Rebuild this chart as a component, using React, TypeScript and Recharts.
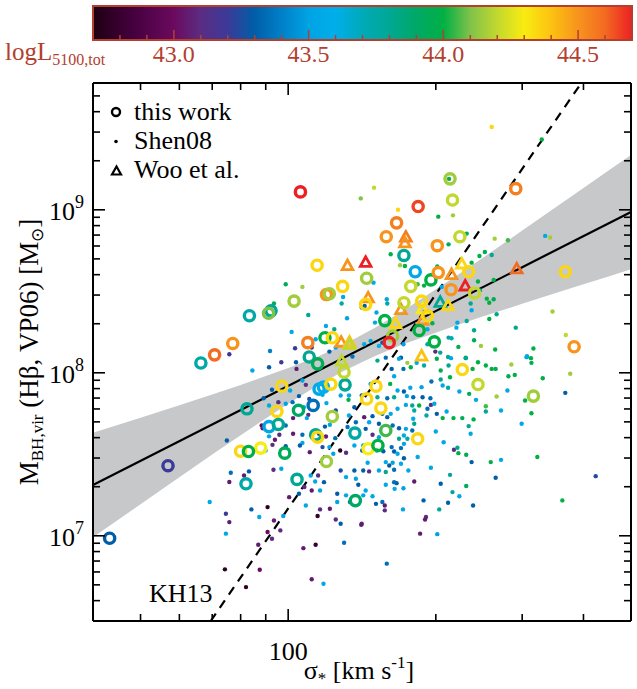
import React from 'react';
import { ComposedChart, XAxis, YAxis, Scatter, Line, Area } from 'recharts';

const W = 637;
const H = 689;
const FONT = '"Liberation Serif", "Times New Roman", Times, serif';
const RED_TXT = '#b3402f';

// ---- data: [log10 sigma (km/s), log10 M_BH (Msun), log L5100,tot] ----
const thisWork: [number, number, number][] = [
  [2.025, 9.11, 44.7], [2.059, 8.66, 44.35], [2.16, 8.58, 44.15], [2.111, 8.53, 44.35],
  [2.078, 8.48, 44.5], [2.084, 8.485, 44.15], [2.012, 8.44, 44.15], [1.965, 8.38, 43.8],
  [1.96, 8.365, 44.1], [1.921, 8.35, 43.75], [1.887, 8.18, 44.5], [1.85, 8.11, 44.6],
  [1.822, 8.06, 43.75], [2.075, 8.215, 44.0], [2.09, 8.215, 44.35], [2.04, 8.185, 44.55],
  [2.043, 8.097, 43.8], [2.464, 9.13, 44.55], [2.33, 9.19, 44.15], [2.335, 9.06, 44.2],
  [2.265, 9.02, 44.65], [2.221, 8.92, 44.55], [2.2, 8.835, 44.5], [2.236, 8.72, 43.8],
  [2.304, 8.78, 44.5], [2.35, 8.835, 44.2], [2.259, 8.62, 43.55], [2.291, 8.57, 44.0],
  [2.306, 8.615, 44.5], [2.25, 8.53, 44.2], [2.368, 8.62, 44.35], [2.332, 8.51, 44.5],
  [2.38, 8.49, 44.2], [2.565, 8.62, 44.35], [2.158, 8.42, 44.35], [2.236, 8.43, 44.2],
  [2.272, 8.44, 44.35], [2.284, 8.35, 44.35], [2.197, 8.32, 44.0], [2.267, 8.26, 44.0],
  [2.213, 8.226, 44.15], [2.206, 8.185, 44.7], [2.298, 8.19, 44.0], [2.583, 8.16, 44.5],
  [1.636, 6.985, 43.3], [1.755, 7.43, 43.2], [1.916, 7.779, 43.8], [1.987, 7.918, 44.35],
  [1.977, 7.763, 44.35], [1.961, 7.67, 43.55], [1.98, 7.683, 43.8], [2.021, 7.77, 43.9],
  [2.051, 7.8, 43.35], [2.063, 7.9, 43.55], [2.072, 7.912, 43.6], [2.087, 7.93, 44.35],
  [2.06, 8.055, 43.95], [2.116, 7.926, 43.8], [2.114, 8.004, 44.2], [2.09, 7.732, 44.15],
  [2.056, 7.62, 43.8], [2.06, 7.605, 44.35], [2.136, 7.63, 43.75], [1.903, 7.519, 44.35],
  [1.944, 7.538, 44.3], [1.919, 7.517, 44.0], [1.993, 7.507, 43.95], [2.078, 7.456, 44.15],
  [2.018, 7.346, 43.8], [1.914, 7.319, 43.75], [2.137, 7.216, 43.9], [2.355, 8.02, 44.35],
  [2.387, 7.928, 44.2], [2.5, 7.857, 44.15], [2.179, 7.918, 44.35], [2.16, 7.84, 44.35],
  [2.189, 7.783, 44.35], [2.199, 7.646, 44.05], [2.264, 7.595, 44.35], [2.163, 7.534, 44.3],
  [2.183, 7.554, 44.0],
];

const wooEtAl: [number, number, number][] = [
  [2.121, 8.655, 44.5], [2.158, 8.675, 44.7], [2.108, 8.185, 44.5], [2.125, 8.185, 44.4],
  [2.125, 8.17, 44.2], [2.24, 8.83, 44.55], [2.238, 8.795, 44.5], [2.333, 8.6, 44.5],
  [2.354, 8.665, 44.35], [2.361, 8.53, 44.7], [2.466, 8.635, 44.6], [2.163, 8.457, 44.5],
  [2.274, 8.39, 44.3], [2.23, 8.385, 44.5], [2.31, 8.43, 43.8], [2.326, 8.41, 44.35],
  [2.274, 8.32, 44.5], [2.219, 8.3, 44.35], [2.272, 8.1, 44.4], [2.109, 8.07, 44.2],
];

const shen08: [number, number, number][] = [
  [2.148, 9.07, 44.1], [1.995, 8.543, 43.95], [2.029, 8.527, 44.15], [1.971, 8.425, 43.95],
  [2.041, 8.355, 43.8], [2.112, 8.465, 43.55], [2.12, 8.335, 43.5], [2.109, 8.425, 43.75],
  [2.094, 8.267, 43.8], [2.077, 8.287, 43.55], [2.007, 8.251, 43.55], [1.963, 8.134, 43.4],
  [2.014, 8.151, 43.2], [1.88, 8.114, 43.2], [2.048, 8.155, 43.1], [2.084, 8.13, 43.3],
  [2.097, 8.155, 43.55], [2.15, 8.4, 43.3], [2.056, 8.206, 43.55], [2.131, 8.1, 43.35],
  [2.415, 9.508, 44.35], [2.517, 9.432, 44.0], [2.175, 9.136, 44.2], [2.224, 9.0, 44.35],
  [2.306, 8.958, 44.0], [2.336, 8.966, 44.15], [2.328, 9.19, 44.0], [2.364, 8.854, 43.95],
  [2.421, 8.823, 44.15], [2.448, 8.813, 44.05], [2.524, 8.84, 43.55], [2.534, 8.83, 44.15],
  [2.327, 8.788, 43.95], [2.209, 8.727, 44.0], [2.401, 8.741, 43.95], [2.39, 8.717, 44.0],
  [2.415, 8.723, 43.8], [2.228, 8.66, 44.15], [2.238, 8.655, 44.0], [2.304, 8.653, 43.95],
  [2.374, 8.676, 44.0], [2.174, 8.553, 43.55], [2.264, 8.543, 44.05], [2.277, 8.535, 44.0],
  [2.313, 8.527, 43.55], [2.387, 8.56, 44.0], [2.419, 8.57, 44.0], [2.391, 8.506, 43.8],
  [2.405, 8.455, 44.0], [2.419, 8.451, 43.95], [2.41, 8.43, 44.0], [2.201, 8.451, 43.5],
  [2.202, 8.425, 43.75], [2.18, 8.37, 43.55], [2.156, 8.41, 43.3], [2.372, 8.425, 43.8],
  [2.374, 8.384, 43.55], [2.41, 8.33, 44.0], [2.364, 8.318, 43.8], [2.345, 8.308, 43.55],
  [2.343, 8.277, 43.6], [2.425, 8.359, 43.8], [2.464, 8.277, 43.8], [2.177, 8.308, 43.55],
  [2.294, 8.304, 44.0], [2.539, 8.376, 44.15], [2.566, 8.232, 44.2], [2.284, 8.267, 43.55],
  [2.379, 8.261, 43.8], [2.327, 8.216, 43.8], [2.333, 8.212, 43.7], [2.347, 8.159, 44.0],
  [2.379, 8.2, 43.95], [2.393, 8.165, 44.15], [2.422, 8.143, 44.0], [2.5, 8.149, 44.0],
  [2.487, 8.102, 43.55], [2.168, 8.196, 43.55], [2.192, 8.185, 43.3], [2.185, 8.165, 43.6],
  [2.235, 8.175, 43.5], [2.284, 8.175, 43.75], [2.3, 8.13, 43.1], [2.31, 8.124, 43.8],
  [2.362, 8.093, 44.0], [2.326, 8.097, 43.8], [2.23, 8.093, 43.3], [2.199, 8.093, 43.35],
  [2.155, 8.175, 43.55],
  [1.927, 8.014, 43.55], [1.961, 8.034, 43.3], [1.986, 8.065, 43.2], [2.017, 8.024, 43.05],
  [2.016, 8.065, 43.3], [1.967, 7.896, 43.3], [1.95, 7.844, 43.3], [1.961, 7.799, 43.55],
  [1.98, 7.82, 43.1], [1.995, 7.81, 43.5], [2.009, 7.82, 43.35], [2.004, 7.891, 43.55],
  [2.029, 7.953, 43.5], [2.036, 7.926, 43.1], [2.043, 7.84, 43.25], [2.07, 7.865, 43.55],
  [2.078, 7.814, 43.55], [2.022, 7.857, 43.3], [2.041, 7.742, 43.1], [2.038, 7.722, 43.55],
  [2.01, 7.722, 43.05], [1.995, 7.677, 43.35], [1.946, 7.677, 43.0], [1.948, 7.66, 43.05],
  [1.982, 7.62, 43.1], [1.961, 7.61, 43.55], [1.973, 7.589, 43.05], [1.968, 7.558, 43.1],
  [1.954, 7.523, 43.55], [1.995, 7.55, 43.3], [2.01, 7.626, 43.05], [2.029, 7.62, 43.35],
  [2.029, 7.57, 43.55], [2.044, 7.513, 43.05], [2.063, 7.626, 43.1], [2.075, 7.67, 43.3],
  [2.085, 7.681, 43.55], [2.077, 7.609, 43.05], [2.024, 7.554, 43.3], [2.07, 7.544, 43.25],
  [2.096, 7.599, 43.35], [2.106, 7.523, 42.75], [2.084, 7.544, 43.55], [2.092, 7.503, 43.5],
  [2.118, 7.509, 43.1], [2.135, 7.554, 43.55], [2.121, 7.667, 43.35], [2.138, 7.697, 43.35],
  [2.124, 7.738, 43.55], [2.135, 7.789, 43.3], [2.124, 7.861, 43.55], [2.123, 7.834, 44.0],
  [2.107, 7.861, 43.55], [2.032, 7.789, 43.6], [1.875, 7.585, 43.3], [1.91, 7.37, 43.05],
  [1.92, 7.395, 43.3], [1.88, 7.33, 43.05], [1.883, 7.387, 43.35], [1.84, 7.207, 43.55],
  [1.873, 7.135, 43.2], [1.88, 7.084, 43.05], [1.873, 7.013, 43.55], [1.871, 6.794, 42.75],
  [1.914, 6.685, 42.75], [1.958, 7.176, 42.75], [1.925, 7.162, 43.3], [1.941, 7.115, 43.55],
  [1.971, 7.094, 43.05], [1.958, 7.023, 43.0], [1.967, 6.982, 43.1], [1.984, 7.033, 43.1],
  [1.99, 7.121, 43.5], [1.939, 6.945, 43.05], [1.942, 6.792, 43.0], [1.97, 7.405, 43.1],
  [1.986, 7.411, 43.55], [2.002, 7.237, 43.05], [2.022, 7.258, 43.3], [2.033, 7.299, 43.1],
  [2.036, 7.186, 43.55], [2.046, 7.37, 43.55], [2.061, 7.37, 43.1], [2.055, 7.333, 43.55],
  [2.073, 7.329, 43.3], [2.065, 7.278, 43.5], [2.048, 7.278, 43.05], [2.065, 7.162, 43.1],
  [2.06, 7.121, 42.8], [2.085, 7.166, 43.05], [2.097, 7.1, 43.1], [2.107, 7.074, 43.3],
  [2.031, 6.924, 43.05], [2.056, 6.945, 42.8], [2.114, 6.957, 43.35], [2.048, 6.733, 43.05],
  [2.072, 6.706, 43.55], [2.1, 7.258, 43.3], [2.118, 7.248, 43.55], [2.1, 7.207, 43.5],
  [2.126, 7.207, 43.35], [2.15, 7.074, 43.1], [2.153, 7.248, 43.55], [2.107, 7.401, 43.25],
  [2.135, 7.401, 43.3], [2.118, 7.36, 43.55], [2.138, 7.35, 43.5], [2.143, 7.313, 43.3],
  [2.097, 7.769, 43.25], [2.15, 7.861, 43.3],
  [2.182, 8.075, 43.8], [2.211, 8.024, 43.3], [2.216, 7.979, 43.55], [2.226, 8.086, 43.55],
  [2.235, 8.024, 43.35], [2.25, 8.034, 44.0], [2.243, 8.061, 44.15], [2.262, 8.061, 43.55],
  [2.303, 8.086, 44.0], [2.311, 8.014, 43.95], [2.327, 8.045, 43.8], [2.332, 8.09, 43.55],
  [2.362, 8.09, 43.8], [2.376, 8.024, 44.0], [2.387, 8.065, 44.0], [2.403, 8.045, 44.0],
  [2.415, 8.024, 44.0], [2.423, 8.024, 43.95], [2.455, 8.051, 44.15], [2.486, 8.096, 43.55],
  [2.495, 8.09, 44.0], [2.496, 8.061, 43.95], [2.449, 7.979, 43.95], [2.462, 7.987, 44.0],
  [2.519, 7.967, 44.0], [2.575, 7.994, 44.15], [2.277, 8.045, 43.75],
  [2.311, 7.959, 43.8], [2.292, 7.947, 43.35], [2.33, 7.973, 44.0], [2.315, 7.922, 43.55],
  [2.326, 7.908, 43.75], [2.272, 7.912, 43.5], [2.249, 7.908, 43.55], [2.236, 7.885, 43.3],
  [2.223, 7.891, 43.55], [2.208, 7.932, 44.0], [2.168, 7.932, 43.55], [2.349, 7.885, 43.55],
  [2.369, 7.871, 43.95], [2.383, 7.834, 43.55], [2.447, 7.891, 43.55], [2.425, 7.855, 44.15],
  [2.483, 7.83, 44.0], [2.565, 7.877, 43.3], [2.182, 7.85, 43.8], [2.202, 7.844, 43.35],
  [2.216, 7.85, 43.8], [2.242, 7.857, 43.55], [2.255, 7.85, 43.35], [2.274, 7.85, 43.3],
  [2.29, 7.844, 43.35],
  [2.24, 7.803, 43.55], [2.253, 7.799, 43.8], [2.267, 7.799, 44.0], [2.291, 7.803, 43.1],
  [2.298, 7.81, 43.55], [2.284, 7.779, 43.35], [2.257, 7.769, 43.75], [2.223, 7.779, 43.55],
  [2.209, 7.748, 43.55], [2.202, 7.728, 43.3], [2.255, 7.718, 43.55], [2.282, 7.738, 43.75],
  [2.303, 7.748, 43.3], [2.315, 7.722, 44.0], [2.323, 7.763, 43.55], [2.337, 7.722, 44.0],
  [2.355, 7.722, 43.95], [2.378, 7.714, 44.0], [2.403, 7.763, 43.8], [2.403, 7.795, 44.05],
  [2.434, 7.769, 43.55], [2.496, 7.752, 44.0], [2.476, 7.687, 43.55], [2.155, 7.728, 43.05],
  [2.172, 7.734, 43.3], [2.192, 7.748, 43.35], [2.172, 7.62, 43.1],
  [2.165, 7.697, 43.55], [2.185, 7.687, 43.3], [2.213, 7.677, 43.35], [2.226, 7.66, 43.3],
  [2.24, 7.656, 43.55], [2.253, 7.646, 43.35], [2.236, 7.615, 43.55], [2.226, 7.595, 43.8],
  [2.243, 7.595, 43.75], [2.257, 7.687, 43.8], [2.158, 7.656, 43.3], [2.185, 7.605, 43.55],
  [2.301, 7.64, 43.55], [2.368, 7.673, 43.8], [2.372, 7.626, 43.55], [2.317, 7.574, 43.55],
  [2.236, 7.564, 43.5], [2.23, 7.538, 43.35], [2.216, 7.517, 43.3], [2.211, 7.544, 43.35],
  [2.223, 7.503, 43.55], [2.181, 7.523, 43.8], [2.194, 7.519, 43.3], [2.153, 7.554, 43.55],
  [2.151, 7.523, 43.3], [2.338, 7.528, 43.1], [2.347, 7.507, 44.0], [2.345, 7.54, 43.8],
  [2.363, 7.497, 43.95], [2.413, 7.452, 44.0], [2.434, 7.466, 43.55], [2.508, 7.483, 44.0],
  [2.374, 7.452, 43.3], [2.264, 7.483, 43.55], [2.199, 7.452, 43.55], [2.213, 7.448, 43.5],
  [2.206, 7.431, 43.3], [2.199, 7.391, 43.8], [2.216, 7.405, 43.35], [2.23, 7.442, 43.55],
  [2.245, 7.401, 43.55], [2.236, 7.476, 43.3], [2.291, 7.417, 43.55], [2.162, 7.448, 43.55],
  [2.153, 7.401, 43.3], [2.165, 7.395, 43.1], [2.185, 7.401, 43.55],
  [2.33, 7.374, 43.8], [2.311, 7.319, 43.3], [2.423, 7.356, 43.3], [2.257, 7.333, 43.05],
  [2.221, 7.323, 43.3], [2.216, 7.329, 43.35], [2.199, 7.313, 43.55], [2.217, 7.288, 43.55],
  [2.235, 7.292, 43.5], [2.158, 7.278, 43.55], [2.172, 7.243, 43.55], [2.179, 7.196, 43.3],
  [2.192, 7.207, 43.35], [2.197, 7.186, 43.05], [2.197, 7.156, 43.1], [2.234, 7.162, 43.55],
  [2.276, 7.217, 43.3], [2.335, 7.268, 43.8], [2.349, 7.243, 43.55], [2.363, 7.305, 43.95],
  [2.326, 7.203, 43.3], [2.377, 7.186, 43.3], [2.308, 7.162, 43.8], [2.281, 7.115, 43.1],
  [2.279, 7.1, 43.05], [2.269, 7.013, 43.05], [2.304, 7.01, 43.5], [2.201, 6.829, 43.35],
  [2.627, 7.366, 43.25], [2.559, 7.217, 44.0], [2.149, 7.068, 43.05],
];

// best-fit relation and its confidence band (sigma, M)
const fitLine = [ { x: 40, y: 2.05e7 }, { x: 500, y: 9.7e8 } ];
const kh13Line = [ { x: 69.5, y: 3.0e6 }, { x: 396, y: 6.0e9 } ];
const bandSigma = [40, 50, 60, 70, 80, 100, 115, 130, 150, 170, 220, 250, 300, 350, 400, 450, 500];
const bandLow = [9.8e6, 1.56e7, 2.29e7, 3.15e7, 4.14e7, 6.46e7, 8.4e7, 1.03e8, 1.265e8, 1.48e8, 1.95e8, 2.22e8, 2.65e8, 3.08e8, 3.5e8, 3.9e8, 4.32e8];
const bandHigh = [4.28e7, 5.3e7, 6.32e7, 7.35e7, 8.41e7, 1.07e8, 1.26e8, 1.49e8, 1.88e8, 2.36e8, 3.93e8, 5.1e8, 7.46e8, 1.03e9, 1.36e9, 1.74e9, 2.17e9];

const xTicks = [50, 60, 70, 80, 90, 100, 200, 300, 400];
const yTicks = [
  4e6, 5e6, 6e6, 7e6, 8e6, 9e6, 1e7, 2e7, 3e7, 4e7, 5e7, 6e7, 7e7, 8e7, 9e7,
  1e8, 2e8, 3e8, 4e8, 5e8, 6e8, 7e8, 8e8, 9e8, 1e9, 2e9, 3e9, 4e9, 5e9,
];
const cbarMajor = [43.0, 43.5, 44.0, 44.5];
const cbarMinor = [42.8, 42.9, 43.1, 43.2, 43.3, 43.4, 43.6, 43.7, 43.8, 43.9, 44.1, 44.2, 44.3, 44.4, 44.6];

// ---- colour map (logL -> colour) ----
const STOPS: [number, string][] = [
  [42.7, '#1e0012'], [42.85, '#45003f'], [43.0, '#6b0a5e'], [43.1, '#5a2d82'],
  [43.2, '#3b3a98'], [43.3, '#005ea8'], [43.4, '#0080c8'], [43.5, '#00a3e3'],
  [43.6, '#00aeea'], [43.7, '#00aab8'], [43.8, '#00a894'], [43.9, '#00a866'],
  [44.0, '#00b045'], [44.1, '#80c24a'], [44.2, '#c2d82e'], [44.3, '#f8ec10'],
  [44.4, '#fcc212'], [44.5, '#f7941d'], [44.6, '#f36a21'], [44.7, '#ec2024'],
];
const hex = (h: string) => [1, 3, 5].map((i) => parseInt(h.slice(i, i + 2), 16));
function lumColor(L: number): string {
  if (L <= STOPS[0][0]) return STOPS[0][1];
  for (let i = 1; i < STOPS.length; i++) {
    if (L <= STOPS[i][0]) {
      const [l0, c0] = STOPS[i - 1];
      const [l1, c1] = STOPS[i];
      const t = (L - l0) / (l1 - l0);
      const a = hex(c0), b = hex(c1);
      const c = a.map((v, k) => Math.round(v + (b[k] - v) * t));
      return `rgb(${c[0]},${c[1]},${c[2]})`;
    }
  }
  return STOPS[STOPS.length - 1][1];
}

const toPts = (arr: [number, number, number][]) =>
  arr.map(([ls, lm, L]) => ({ x: Math.pow(10, ls), y: Math.pow(10, lm), L }));
const shenPts = toPts(shen08);
const wooPts = toPts(wooEtAl);
const workPts = toPts(thisWork);
const bandPts = bandSigma.map((s, i) => ({ x: s, band: [bandLow[i], bandHigh[i]] }));

// ---- shapes ----
const DotShape = (p: any) => <circle cx={p.cx} cy={p.cy} r={2.2} fill={lumColor(p.payload.L)} />;
const RingShape = (p: any) => (
  <circle cx={p.cx} cy={p.cy} r={5.1} fill="none" stroke={lumColor(p.payload.L)} strokeWidth={3.4} />
);
const TriShape = (p: any) => {
  const { cx, cy } = p;
  const pts = `${cx},${cy - 6} ${cx - 5.3},${cy + 3.6} ${cx + 5.3},${cy + 3.6}`;
  return <polygon points={pts} fill="none" stroke={lumColor(p.payload.L)} strokeWidth={2.8} strokeLinejoin="miter" />;
};

// ---- ticks ----
const isMajorX = (v: number) => v === 100;
const isMajorY = (v: number) => [1e7, 1e8, 1e9].includes(v);
const BottomTick = (p: any) => {
  const { x, y, payload } = p;
  const major = isMajorX(payload.value);
  return (
    <g>
      <line x1={x} x2={x} y1={y} y2={y - (major ? 12 : 7)} stroke="#000" strokeWidth={1.6} />
      {major && (
        <text x={x} y={y + 39} textAnchor="middle" fontFamily={FONT} fontSize={26} fill="#000">100</text>
      )}
    </g>
  );
};
const TopTick = (p: any) => {
  const { x, y, payload } = p;
  const major = isMajorX(payload.value);
  return <line x1={x} x2={x} y1={y} y2={y + (major ? 12 : 7)} stroke="#000" strokeWidth={1.6} />;
};
const LeftTick = (p: any) => {
  const { x, y, payload } = p;
  const v = payload.value;
  const major = isMajorY(v);
  const exp = Math.round(Math.log10(v));
  return (
    <g>
      <line x1={x} x2={x + (major ? 12 : 7)} y1={y} y2={y} stroke="#000" strokeWidth={1.6} />
      {major && (
        <text x={x - 9} y={y + 10} textAnchor="end" fontFamily={FONT} fontSize={26} fill="#000">
          10<tspan fontSize={18} dy={-12}>{exp}</tspan>
        </text>
      )}
    </g>
  );
};
const RightTick = (p: any) => {
  const { x, y, payload } = p;
  const major = isMajorY(payload.value);
  return <line x1={x} x2={x - (major ? 12 : 7)} y1={y} y2={y} stroke="#000" strokeWidth={1.6} />;
};

// ---- colour bar geometry ----
const CB_X0 = 93, CB_X1 = 632, CB_Y0 = 6, CB_Y1 = 40;
const cbX = (L: number) => CB_X0 + ((L - 42.7) / 2.0) * (CB_X1 - CB_X0);

export default function App() {
  return (
    <div style={{ position: 'absolute', left: 0, top: 0, width: W, height: H, background: '#fff', overflow: 'hidden' }}>
      <ComposedChart width={W} height={H} margin={{ top: 73, right: 0, bottom: 28, left: 33 }}>
        <XAxis
          xAxisId={0} dataKey="x" type="number" scale="log" domain={[40, 500]} allowDataOverflow
          ticks={xTicks} interval={0} tickSize={0} tickMargin={0} tick={<BottomTick />} height={40}
          axisLine={{ stroke: '#000', strokeWidth: 2 }} tickLine={false}
        />
        <XAxis
          xAxisId="top" orientation="top" dataKey="x" type="number" scale="log" domain={[40, 500]} allowDataOverflow
          ticks={xTicks} interval={0} tickSize={0} tickMargin={0} tick={<TopTick />} height={10}
          axisLine={{ stroke: '#000', strokeWidth: 2 }} tickLine={false}
        />
        <YAxis
          yAxisId={0} dataKey="y" type="number" scale="log" domain={[3e6, 6e9]} allowDataOverflow
          ticks={yTicks} interval={0} tickSize={0} tickMargin={0} tick={<LeftTick />} width={60}
          axisLine={{ stroke: '#000', strokeWidth: 2 }} tickLine={false}
        />
        <YAxis
          yAxisId="right" orientation="right" dataKey="y" type="number" scale="log" domain={[3e6, 6e9]} allowDataOverflow
          ticks={yTicks} interval={0} tickSize={0} tickMargin={0} tick={<RightTick />} width={6}
          axisLine={{ stroke: '#000', strokeWidth: 2 }} tickLine={false}
        />
        <Area
          data={bandPts} dataKey="band" type="linear" stroke="none" fill="#c7c8ca" fillOpacity={1}
          isAnimationActive={false} dot={false} activeDot={false}
        />
        <Scatter data={shenPts} dataKey="y" shape={(p: any) => <DotShape {...p} />} isAnimationActive={false} />
        <Scatter data={wooPts} dataKey="y" shape={(p: any) => <TriShape {...p} />} isAnimationActive={false} />
        <Scatter data={workPts} dataKey="y" shape={(p: any) => <RingShape {...p} />} isAnimationActive={false} />
        <Line
          data={fitLine} dataKey="y" type="linear" stroke="#000" strokeWidth={2.2}
          dot={false} activeDot={false} isAnimationActive={false}
        />
        <Line
          data={kh13Line} dataKey="y" type="linear" stroke="#000" strokeWidth={2.2} strokeDasharray="9 7"
          dot={false} activeDot={false} isAnimationActive={false}
        />
      </ComposedChart>

      <svg width={W} height={H} style={{ position: 'absolute', left: 0, top: 0, pointerEvents: 'none' }}>
        <defs>
          <linearGradient id="lumgrad" x1="0" x2="1" y1="0" y2="0">
            {STOPS.map(([l, c]) => (
              <stop key={l} offset={`${((l - 42.7) / 2.0) * 100}%`} stopColor={c} />
            ))}
          </linearGradient>
        </defs>
        {/* colour bar */}
        <rect x={CB_X0} y={CB_Y0} width={CB_X1 - CB_X0} height={CB_Y1 - CB_Y0} fill="url(#lumgrad)" stroke={RED_TXT} strokeWidth={2} />
        {cbarMinor.map((l) => (
          <line key={`m${l}`} x1={cbX(l)} x2={cbX(l)} y1={CB_Y1} y2={CB_Y1 - 5} stroke={RED_TXT} strokeWidth={1.5} />
        ))}
        {cbarMajor.map((l) => (
          <g key={`M${l}`}>
            <line x1={cbX(l)} x2={cbX(l)} y1={CB_Y1} y2={CB_Y1 - 10} stroke={RED_TXT} strokeWidth={1.5} />
            <text x={cbX(l)} y={62} textAnchor="middle" fontFamily={FONT} fontSize={24} fill={RED_TXT}>
              {l.toFixed(1)}
            </text>
          </g>
        ))}
        <text x={5} y={60} fontFamily={FONT} fontSize={25} fill={RED_TXT}>
          logL<tspan fontSize={16} dy={5}>5100,tot</tspan>
        </text>

        {/* legend */}
        <circle cx={116} cy={112} r={4} fill="none" stroke="#000" strokeWidth={2.4} />
        <text x={134} y={120} fontFamily={FONT} fontSize={26} fill="#000">this work</text>
        <circle cx={116} cy={141.5} r={1.8} fill="#000" />
        <text x={134} y={149} fontFamily={FONT} fontSize={26} fill="#000">Shen08</text>
        <polygon points="116.5,166.5 112,174.5 121,174.5" fill="none" stroke="#000" strokeWidth={2.2} />
        <text x={134} y={178} fontFamily={FONT} fontSize={26} fill="#000">Woo et al.</text>

        {/* KH13 label */}
        <text x={149} y={602} fontFamily={FONT} fontSize={26} fill="#000">KH13</text>

        {/* axis titles */}
        <text x={359} y={679} textAnchor="middle" fontFamily={FONT} fontSize={26} fill="#000">
          σ<tspan fontSize={17} dy={5}>*</tspan>
          <tspan dy={-5}> [km s</tspan>
          <tspan fontSize={17} dy={-11}>-1</tspan>
          <tspan dy={11}>]</tspan>
        </text>
        <text transform="rotate(-90 38 352)" x={38} y={352} textAnchor="middle" fontFamily={FONT} fontSize={27} fill="#000">
          M<tspan fontSize={17} dy={5}>BH,vir</tspan>
          <tspan dy={-5}> (Hβ, VP06) [M</tspan>
          <tspan fontSize={17} dy={5}>⊙</tspan>
          <tspan dy={-5}>]</tspan>
        </text>
      </svg>
    </div>
  );
}
